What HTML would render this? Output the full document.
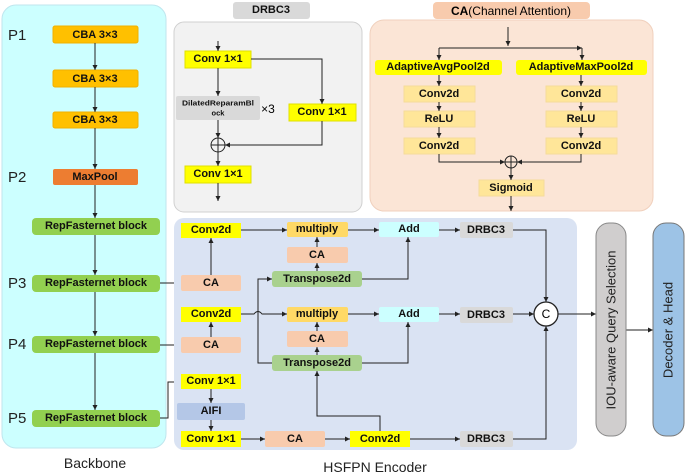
<!DOCTYPE html>
<html><head><style>
html,body{margin:0;padding:0;background:#fff;}
svg{display:block;}
text{font-family:"Liberation Sans",Arial,sans-serif;}
.b{font-weight:bold;font-size:11px;text-anchor:middle;dominant-baseline:central;fill:#111;}
.l{stroke:#222;stroke-width:1;fill:none;}
</style></head><body>
<svg width="685" height="476" viewBox="0 0 685 476" xmlns="http://www.w3.org/2000/svg">
<defs><marker id="a" markerWidth="6" markerHeight="6" refX="5" refY="3" orient="auto" markerUnits="userSpaceOnUse"><path d="M0,0.5 L5,3 L0,5.5 z" fill="#222"/></marker></defs>

<!-- Backbone -->
<rect x="2" y="5" width="164" height="443" rx="14" fill="#ccffff" stroke="#bfe6ee"/>
<text x="95" y="463" font-size="14" text-anchor="middle" dominant-baseline="central" fill="#222">Backbone</text>
<g font-size="15" fill="#222"><text x="8" y="40">P1</text><text x="8" y="182">P2</text><text x="8" y="288">P3</text><text x="8" y="349">P4</text><text x="8" y="423">P5</text></g>
<g fill="#ffc000" stroke="#f0b000">
<rect x="53" y="26" width="85" height="17" rx="2"/><rect x="53" y="70" width="85" height="17" rx="2"/><rect x="53" y="112" width="85" height="16" rx="2"/></g>
<rect x="53" y="169" width="85" height="16" rx="2" fill="#ed7d31"/>
<g class="b"><text x="95" y="35">CBA  3×3</text><text x="95" y="79">CBA  3×3</text><text x="95" y="120">CBA  3×3</text><text x="95" y="177">MaxPool</text></g>
<g fill="#92d050"><rect x="32" y="218" width="128" height="17" rx="4"/><rect x="32" y="275" width="128" height="17" rx="4"/><rect x="32" y="336" width="128" height="17" rx="4"/><rect x="32" y="410" width="128" height="17" rx="4"/></g>
<g class="b"><text x="96" y="226">RepFasternet block</text><text x="96" y="283">RepFasternet block</text><text x="96" y="344">RepFasternet block</text><text x="96" y="418">RepFasternet block</text></g>
<g class="l" marker-end="url(#a)">
<path d="M95,43V70"/><path d="M95,87V112"/><path d="M95,128V169"/><path d="M95,185V218"/><path d="M95,235V275"/><path d="M95,292V336"/><path d="M95,353V410"/>
<path d="M160,283H181"/><path d="M160,345H181"/><path d="M160,418H168V382H181"/></g>

<!-- DRBC3 -->
<rect x="174" y="22" width="188" height="190" rx="10" fill="#f2f2f2" stroke="#d0d0d0"/>
<rect x="233" y="2" width="77" height="17" rx="3" fill="#d9d9d9"/>
<text x="271" y="10" class="b">DRBC3</text>
<g fill="#ffff00" stroke="#e0e000"><rect x="185" y="51" width="66" height="17"/><rect x="289" y="104" width="67" height="17"/><rect x="185" y="166" width="66" height="17"/></g>
<rect x="176" y="96" width="84" height="24" rx="2" fill="#d9d9d9"/>
<text x="218" y="103" class="b" style="font-size:7.5px" textLength="72" lengthAdjust="spacingAndGlyphs">DilatedReparamBl</text><text x="218" y="113" class="b" style="font-size:7.5px">ock</text>
<text x="268" y="109" font-size="12" text-anchor="middle" dominant-baseline="central">×3</text>
<g class="b"><text x="218" y="59">Conv 1×1</text><text x="322" y="112">Conv 1×1</text><text x="218" y="174">Conv 1×1</text></g>
<circle cx="218" cy="145" r="7" fill="none" stroke="#222"/><path d="M211,145H225M218,138V152" class="l"/>
<g class="l" marker-end="url(#a)"><path d="M218,41V51"/><path d="M218,68V96"/><path d="M251,59H322V104"/><path d="M218,120V138"/><path d="M322,121V145H225"/><path d="M218,152V166"/><path d="M218,183V201"/></g>

<!-- CA panel -->
<rect x="370" y="20" width="283" height="191" rx="14" fill="#fbe5d6" stroke="#f0d0bd"/>
<rect x="433" y="2" width="157" height="17" rx="4" fill="#f8cbad"/>
<text x="511" y="11" font-size="12" text-anchor="middle" dominant-baseline="central"><tspan font-weight="bold">CA</tspan>(Channel Attention)</text>
<g fill="#ffff00"><rect x="375" y="60" width="127" height="15" rx="3"/><rect x="516" y="60" width="131" height="15" rx="3"/></g>
<g fill="#ffe699" stroke="#f5dc9a"><rect x="404" y="86" width="71" height="16"/><rect x="404" y="111" width="71" height="16"/><rect x="404" y="138" width="71" height="16"/>
<rect x="546" y="86" width="71" height="16"/><rect x="546" y="111" width="71" height="16"/><rect x="546" y="138" width="71" height="16"/><rect x="479" y="180" width="65" height="16"/></g>
<g class="b"><text x="438" y="67">AdaptiveAvgPool2d</text><text x="581" y="67">AdaptiveMaxPool2d</text>
<text x="439" y="94">Conv2d</text><text x="439" y="119">ReLU</text><text x="439" y="146">Conv2d</text>
<text x="581" y="94">Conv2d</text><text x="581" y="119">ReLU</text><text x="581" y="146">Conv2d</text><text x="511" y="188">Sigmoid</text></g>
<circle cx="511" cy="162" r="6" fill="none" stroke="#222"/><path d="M505,162H517M511,156V168" class="l"/>
<g class="l" marker-end="url(#a)"><path d="M508,27V46"/><path d="M439,48H582"/><path d="M439,48V60"/><path d="M582,48V60"/>
<path d="M439,75V86"/><path d="M439,102V111"/><path d="M439,127V138"/><path d="M581,75V86"/><path d="M581,102V111"/><path d="M581,127V138"/>
<path d="M439,154V162H505"/><path d="M581,154V162H517"/><path d="M511,168V180"/><path d="M511,196V211"/></g>

<!-- HSFPN -->
<rect x="174" y="218" width="403" height="232" rx="10" fill="#dae3f3"/>
<text x="375" y="467" font-size="14" text-anchor="middle" dominant-baseline="central" fill="#222">HSFPN Encoder</text>
<g fill="#ffff00"><rect x="181" y="223" width="60" height="15"/><rect x="181" y="307" width="60" height="15"/><rect x="181" y="374" width="60" height="15"/><rect x="181" y="431" width="60" height="16"/><rect x="350" y="431" width="60" height="16"/></g>
<g fill="#f8cbad"><rect x="181" y="275" width="60" height="16" rx="2"/><rect x="181" y="337" width="60" height="16" rx="2"/><rect x="287" y="247" width="61" height="16" rx="2"/><rect x="287" y="331" width="61" height="16" rx="2"/><rect x="265" y="431" width="60" height="16" rx="2"/></g>
<g fill="#ffd966"><rect x="287" y="222" width="61" height="15" rx="2"/><rect x="287" y="307" width="61" height="15" rx="2"/></g>
<g fill="#a9d18e"><rect x="272" y="271" width="90" height="16" rx="3"/><rect x="272" y="355" width="90" height="16" rx="3"/></g>
<g fill="#ccffff"><rect x="379" y="222" width="60" height="15" rx="2"/><rect x="379" y="307" width="60" height="15" rx="2"/></g>
<g fill="#d9d9d9"><rect x="460" y="222" width="53" height="16" rx="2"/><rect x="460" y="307" width="53" height="16" rx="2"/><rect x="460" y="431" width="53" height="16" rx="2"/></g>
<rect x="177" y="403" width="68" height="17" rx="2" fill="#b4c7e7"/>
<g class="b"><text x="211" y="230">Conv2d</text><text x="211" y="314">Conv2d</text><text x="211" y="381">Conv 1×1</text><text x="211" y="439">Conv 1×1</text><text x="380" y="439">Conv2d</text>
<text x="211" y="283">CA</text><text x="211" y="345">CA</text><text x="317" y="255">CA</text><text x="317" y="339">CA</text><text x="295" y="439">CA</text>
<text x="317" y="229">multiply</text><text x="317" y="314">multiply</text><text x="317" y="279">Transpose2d</text><text x="317" y="363">Transpose2d</text>
<text x="409" y="229">Add</text><text x="409" y="314">Add</text><text x="486" y="230">DRBC3</text><text x="486" y="315">DRBC3</text><text x="486" y="439">DRBC3</text><text x="211" y="411">AIFI</text></g>
<circle cx="546" cy="314" r="12" fill="#fff" stroke="#222" stroke-width="1.3"/>
<text x="546" y="314" font-size="12" text-anchor="middle" dominant-baseline="central">C</text>
<g class="l" marker-end="url(#a)">
<path d="M211,275V238"/><path d="M211,337V322"/><path d="M241,230H287"/><path d="M241,314H254q4,-5 8,0H287"/>
<path d="M317,247V237"/><path d="M317,271V263"/><path d="M317,331V322"/><path d="M317,355V347"/>
<path d="M348,230H379"/><path d="M348,314H379"/><path d="M362,279H408V237"/><path d="M362,363H408V322"/>
<path d="M439,230H460"/><path d="M439,314H460"/><path d="M272,363H258V279H272"/>
<path d="M211,389V403"/><path d="M211,420V431"/><path d="M241,439H265"/><path d="M325,439H350"/><path d="M410,439H460"/>
<path d="M380,431V416H317V371"/>
<path d="M513,230H546V302"/><path d="M513,314H534"/><path d="M513,439H546V326"/>
<path d="M558,314H596"/><path d="M626,330H653"/></g>

<!-- right -->
<rect x="596" y="223" width="30" height="213" rx="13" fill="#d0cece" stroke="#888"/>
<rect x="653" y="223" width="31" height="213" rx="13" fill="#9dc3e6" stroke="#777"/>
<text transform="translate(611,330) rotate(-90)" font-size="13" text-anchor="middle" dominant-baseline="central" fill="#222">IOU-aware Query Selection</text>
<text transform="translate(668,330) rotate(-90)" font-size="13" text-anchor="middle" dominant-baseline="central" fill="#222">Decoder &amp; Head</text>
</svg>
</body></html>
